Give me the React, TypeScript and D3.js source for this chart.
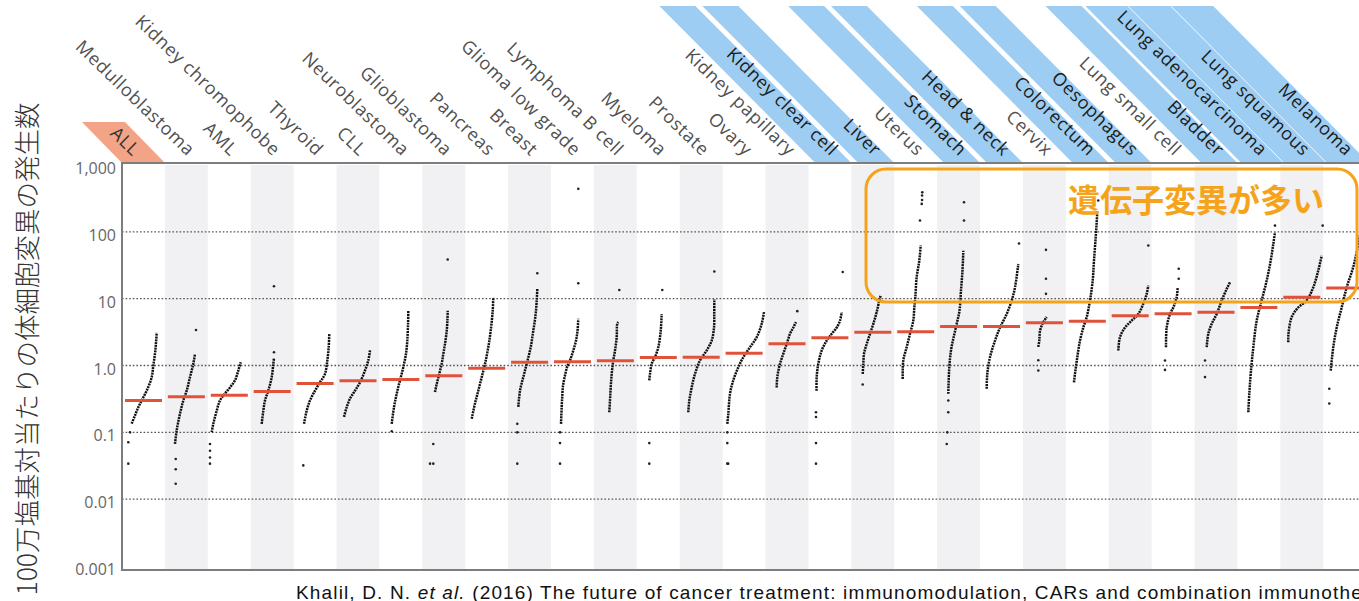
import React from 'react';
import * as d3 from 'd3';

const categories = ['ALL','Medulloblastoma','AML','Kidney chromophobe','Thyroid','CLL','Neuroblastoma','Glioblastoma','Pancreas','Breast','Glioma low grade','Lymphoma B cell','Myeloma','Prostate','Ovary','Kidney papillary','Kidney clear cell','Liver','Uterus','Stomach','Head & neck','Cervix','Colorectum','Oesophagus','Lung small cell','Bladder','Lung adenocarcinoma','Lung squamous','Melanoma'];

const highlighted = ['Kidney clear cell','Liver','Stomach','Head & neck','Colorectum','Oesophagus','Bladder','Lung adenocarcinoma','Lung squamous','Melanoma'];
const joined = ['Lung adenocarcinoma','Lung squamous','Melanoma'];

const medians = [0.30,0.34,0.36,0.41,0.54,0.59,0.62,0.70,0.91,1.12,1.14,1.18,1.32,1.33,1.53,2.11,2.60,3.15,3.19,3.83,3.83,4.36,4.60,5.55,5.94,6.28,7.38,10.5,14.4];

// sorted sample curves: [rank within column (0-1), mutations per Mb]
const curves: [number, number][][] = [
  [[0.226,0.135],[0.303,0.179],[0.38,0.238],[0.459,0.30],[0.576,0.42],[0.692,0.67],[0.73,1.0],[0.769,1.5],[0.793,2.2],[0.809,3.1]],
  [[0.235,0.067],[0.275,0.107],[0.352,0.19],[0.429,0.30],[0.508,0.42],[0.585,0.67],[0.662,1.06],[0.702,1.5]],
  [[0.091,0.10],[0.128,0.134],[0.207,0.21],[0.284,0.30],[0.40,0.38],[0.517,0.47],[0.634,0.60],[0.711,0.84],[0.767,1.12]],
  [[0.256,0.134],[0.294,0.21],[0.333,0.30],[0.41,0.42],[0.49,0.67],[0.527,1.06],[0.543,1.3]],
  [[0.242,0.134],[0.305,0.21],[0.382,0.30],[0.499,0.42],[0.615,0.56],[0.732,0.75],[0.786,1.19],[0.818,1.88],[0.832,2.98]],
  [[0.175,0.17],[0.238,0.238],[0.315,0.32],[0.431,0.42],[0.548,0.56],[0.664,0.84],[0.741,1.19],[0.781,1.68]],
  [[0.287,0.134],[0.34,0.238],[0.403,0.377],[0.48,0.60],[0.557,0.94],[0.62,1.5],[0.65,2.36],[0.668,4.2],[0.674,6.6]],
  [[0.296,0.40],[0.336,0.53],[0.396,0.75],[0.452,1.06],[0.49,1.5],[0.529,2.1],[0.569,3.3],[0.585,4.7],[0.592,6.6]],
  [[0.152,0.16],[0.228,0.27],[0.305,0.42],[0.385,0.67],[0.462,1.06],[0.538,1.88],[0.594,3.3],[0.641,6.6],[0.655,10.5]],
  [[0.238,0.24],[0.277,0.42],[0.354,0.67],[0.434,1.06],[0.527,1.88],[0.587,3.3],[0.643,5.9],[0.667,9.4],[0.681,14.0]],
  [[0.233,0.134],[0.249,0.24],[0.263,0.35],[0.28,0.50],[0.326,0.71],[0.373,0.94],[0.443,1.19],[0.52,1.68],[0.583,2.36],[0.618,3.3],[0.636,5.0]],
  [[0.359,0.20],[0.375,0.30],[0.392,0.47],[0.415,0.75],[0.452,1.19],[0.492,1.68],[0.531,2.65],[0.545,4.2],[0.569,4.45]],
  [[0.291,0.60],[0.308,0.75],[0.347,1.06],[0.424,1.33],[0.501,1.88],[0.541,2.65],[0.564,3.7],[0.58,5.9]],
  [[0.20,0.20],[0.224,0.30],[0.28,0.47],[0.357,0.75],[0.473,1.19],[0.629,1.68],[0.746,2.36],[0.80,3.7],[0.805,5.9],[0.807,9.9]],
  [[0.11,0.134],[0.133,0.19],[0.172,0.377],[0.249,0.60],[0.366,0.94],[0.483,1.33],[0.639,1.88],[0.795,2.65],[0.911,4.2],[0.965,6.3]],
  [[0.261,0.47],[0.275,0.67],[0.338,1.06],[0.415,1.5],[0.494,2.1],[0.571,2.98],[0.648,3.7],[0.711,4.45]],
  [[0.19,0.42],[0.193,0.67],[0.231,1.06],[0.31,1.68],[0.427,2.36],[0.543,2.98],[0.66,3.7],[0.737,4.7],[0.776,6.3]],
  [[0.266,0.75],[0.28,1.06],[0.296,1.5],[0.359,2.1],[0.436,2.98],[0.513,4.2],[0.592,6.3],[0.653,9.4],[0.685,11.2]],
  [[0.198,0.63],[0.212,1.19],[0.291,1.88],[0.368,2.98],[0.445,4.7],[0.469,7.4],[0.492,10.5],[0.524,21],[0.585,37],[0.618,62.5]],
  [[0.261,0.377],[0.284,0.94],[0.324,1.68],[0.394,2.8],[0.464,4.4],[0.522,6.6],[0.557,13.3],[0.592,26.5],[0.611,52]],
  [[0.156,0.45],[0.17,0.75],[0.233,1.33],[0.35,2.36],[0.466,3.7],[0.622,5.9],[0.739,9.4],[0.816,14.8],[0.893,33]],
  [[0.359,1.9],[0.382,2.36],[0.399,3.3],[0.476,4.45],[0.555,5.3]],
  [[0.191,0.56],[0.214,0.75],[0.268,1.33],[0.331,2.36],[0.408,3.7],[0.487,5.3],[0.564,9.4],[0.627,18.7],[0.657,37],[0.697,83],[0.72,139],[0.734,207]],
  [[0.224,1.68],[0.263,2.65],[0.38,3.7],[0.536,4.7],[0.69,5.9],[0.807,8.4],[0.886,11.8],[0.923,15.7]],
  [[0.336,1.88],[0.352,3.7],[0.429,5.9],[0.506,7.4],[0.585,10.5],[0.608,14.8]],
  [[0.284,1.88],[0.322,2.98],[0.401,4.2],[0.517,5.9],[0.634,9.4],[0.751,14],[0.828,17.6]],
  [[0.254,0.20],[0.277,0.377],[0.31,0.75],[0.371,1.88],[0.45,4.7],[0.566,9.4],[0.683,18.7],[0.776,37],[0.837,66],[0.876,99]],
  [[0.186,2.23],[0.19,2.98],[0.266,5.3],[0.42,7.4],[0.615,9.4],[0.769,14.8],[0.886,26.5],[0.965,44]],
  [[0.175,0.84],[0.235,1.88],[0.315,3.7],[0.431,7.4],[0.548,14.8],[0.702,30],[0.818,66],[0.9,130]],
];

// isolated samples (tails and outliers): [rank, value]
const tails: [number, number][][] = [
  [[0.147,0.034],[0.147,0.071],[0.186,0.10]],
  [[0.252,0.040],[0.252,0.028],[0.252,0.017],[0.725,3.4]],
  [[0.051,0.067],[0.051,0.053],[0.051,0.042],[0.051,0.034]],
  [[0.543,1.58],[0.543,15.3]],
  [[0.226,0.032]],
  [],
  [[0.287,0.104]],
  [[0.256,0.067],[0.18,0.034],[0.256,0.034],[0.592,38.6]],
  [],
  [[0.214,0.034],[0.214,0.10],[0.214,0.134],[0.681,24]],
  [[0.21,0.034],[0.21,0.069],[0.21,0.10],[0.636,17],[0.636,440]],
  [[0.592,13.5]],
  [[0.291,0.069],[0.291,0.034],[0.594,13.5]],
  [[0.807,25.5]],
  [[0.11,0.034],[0.13,0.034],[0.11,0.069],[0.11,0.10]],
  [[0.741,6.5]],
  [[0.177,0.034],[0.177,0.069],[0.177,0.17],[0.177,0.20],[0.80,25]],
  [[0.266,0.52]],
  [[0.601,148],[0.641,262],[0.65,300],[0.65,350],[0.655,390]],
  [[0.224,0.067],[0.238,0.10],[0.261,0.20],[0.261,0.30],[0.627,148],[0.627,277]],
  [[0.909,67]],
  [[0.359,0.84],[0.359,1.2],[0.538,11.8],[0.538,19.9],[0.538,53.8]],
  [[0.757,295]],
  [[0.923,62.5]],
  [[0.312,0.86],[0.312,1.19],[0.632,19.9],[0.632,28]],
  [[0.245,0.67],[0.245,1.19]],
  [[0.876,124]],
  [[0.988,124]],
  [[0.142,0.27],[0.142,0.45]],
];

const yTicks = [1000, 100, 10, 1, 0.1, 0.01, 0.001];
const yTickLabels = ['1,000', '100', '10', '1.0', '0.1', '0.01', '0.001'];
const gridValues = [100, 10, 1, 0.1, 0.01];

const yTitle = '100万塩基対当たりの体細胞変異の発生数';
const calloutText = '遺伝子変異が多い';
const captionPre = 'Khalil, D. N. ';
const captionItalic = 'et al.';
const captionPost = ' (2016) The future of cancer treatment: immunomodulation, CARs and combination immunotherapy.';

const W = 1359, H = 601;
const left = 122, top = 165, bottom = 566, colW = 42.9;
const labelFont = "'Open Sans', 'DejaVu Sans', sans-serif";

export default function App() {
  const x = d3.scaleBand<string>().domain(categories).range([left, left + colW * categories.length]).padding(0);
  const bw = x.bandwidth();
  const r = d3.scaleLinear().domain([0, 1]).range([0, bw]);
  const y = d3.scaleLog().domain([0.001, 1000]).range([bottom, top]);
  const frameBottom = 570;
  const bandTop = 6, bandBottom = 162, slant = 155;

  return (
    <svg width={W} height={H} style={{ position: 'absolute', left: 0, top: 0, background: '#fff' }}>
      <rect x={0} y={0} width={W} height={H} fill="#fff" />
      {/* highlight bands behind labels */}
      {categories.map((c, i) => {
        if (!highlighted.includes(c)) return null;
        const L = x(c)!;
        const a = joined.includes(c) ? L + 3 : L + 6;
        const b = joined.includes(c) ? L + 45 : L + 42;
        const pts = [[a, bandBottom], [b, bandBottom], [b - slant, bandTop], [a - slant, bandTop]];
        return <polygon key={'hb' + i} points={pts.map(p => p.join(',')).join(' ')} fill="#9dcdf2" />;
      })}
      {(() => {
        const L = x('ALL')!;
        const pts = [[L, 163], [L + 43, 163], [L + 3, 122], [L - 40, 122]];
        return <polygon points={pts.map(p => p.join(',')).join(' ')} fill="#f3a487" />;
      })()}
      {/* column labels */}
      {categories.map((c, i) => {
        const cx = x(c)! + bw / 2;
        const ax = c === 'ALL' ? cx - 11 : cx + 1;
        const col = c === 'ALL' ? '#333' : highlighted.includes(c) ? '#1c1c1c' : '#505050';
        return (
          <text key={'lb' + i} transform={`translate(${ax},157) rotate(44)`} textAnchor="end"
            fontFamily={labelFont} fontSize={18} letterSpacing={0.7} fill={col}>{c}</text>
        );
      })}
      {/* alternating column backgrounds */}
      {categories.map((c, i) => i % 2 === 1 ? (
        <rect key={'bg' + i} x={x(c)!} y={top} width={bw} height={frameBottom - top} fill="#f1f1f3" />
      ) : null)}
      {/* grid */}
      {gridValues.map(v => (
        <line key={'g' + v} x1={left} x2={W} y1={y(v)} y2={y(v)} stroke="#555" strokeWidth={1.3} strokeDasharray="1.6 2" />
      ))}
      {/* frame */}
      <path d={`M${W + 5},${top - 2}H${left}V${frameBottom}H${W + 5}`} fill="none" stroke="#7d7d7d" strokeWidth={2} />
      {/* y tick labels */}
      {yTicks.map((t, i) => (
        <text key={'t' + t} x={116} y={y(t) + 3} textAnchor="end" dominantBaseline="central"
          fontFamily={labelFont} fontSize={16} fill="#666">{yTickLabels[i]}</text>
      ))}
      {/* samples */}
      {categories.map((c, i) => {
        const L = x(c)!;
        const line = d3.line<[number, number]>().x(d => L + r(d[0])).y(d => y(d[1])).curve(d3.curveCatmullRom.alpha(0.5));
        return (
          <g key={'s' + i}>
            <path d={line(curves[i]) || ''} fill="none" stroke="#111" strokeWidth={2.5} strokeDasharray="2 0.8" />
            {tails[i].map((d, j) => (
              <circle key={j} cx={L + r(d[0])} cy={y(d[1])} r={1.3} fill="#222" />
            ))}
          </g>
        );
      })}
      {/* medians */}
      {categories.map((c, i) => {
        const L = x(c)!;
        return <line key={'m' + i} x1={L + 3} x2={L + 40} y1={y(medians[i])} y2={y(medians[i])} stroke="#e0533a" strokeWidth={3} />;
      })}
      {/* callout */}
      <rect x={866} y={169} width={491} height={133} rx={20} ry={20} fill="none" stroke="#f5a31a" strokeWidth={3} />
      <text x={1068} y={198} dominantBaseline="central" fontFamily="'Noto Sans CJK JP', sans-serif" fontWeight={700}
        fontSize={32} fill="#f5a31a">{calloutText}</text>
      {/* y title */}
      <text transform="translate(25,349) rotate(-90)" textAnchor="middle" dominantBaseline="central"
        fontFamily="'Noto Sans CJK JP', sans-serif" fontWeight={300} fontSize={26.5} fill="#333">{yTitle}</text>
      {/* caption */}
      <text x={296} y={599} fontFamily="'Liberation Sans', Arial, sans-serif" fontSize={19} letterSpacing={1.15} fill="#111">
        {captionPre}<tspan fontStyle="italic">{captionItalic}</tspan>{captionPost}
      </text>
    </svg>
  );
}
